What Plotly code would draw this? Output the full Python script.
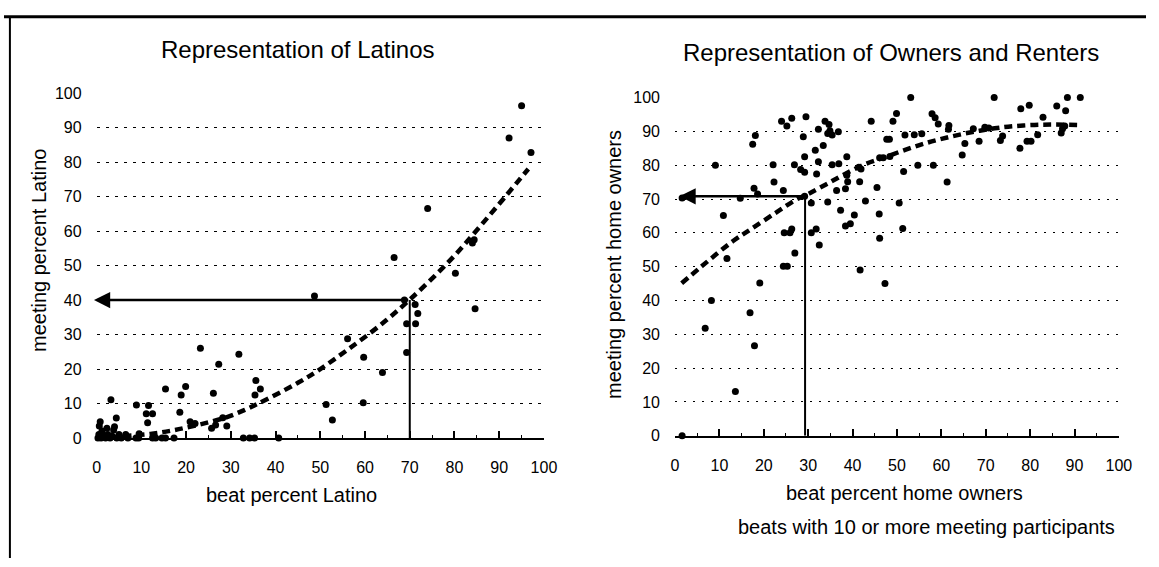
import plotly.graph_objects as go

W, H = 1159, 567

# ---------------- data: Representation of Latinos ----------------
latino_beat = [95.0, 92.2, 97.1, 74.0, 66.5, 84.4, 84.0, 80.2, 84.6, 48.7, 68.8, 71.2, 71.8, 69.3, 71.3,
               69.3, 56.1, 59.7, 63.9, 51.3, 59.6, 52.7,
               23.2, 31.8, 27.3, 35.6, 36.6, 35.4, 15.4, 19.9, 18.9, 26.1, 3.2, 8.9, 11.6, 11.1, 12.5,
               11.4, 4.4, 18.6, 20.9, 22.0, 25.7, 26.6, 29.1, 28.2,
               32.8, 34.2, 35.3, 40.7, 8.8, 9.4, 12.5, 13.2, 14.6, 15.4, 17.3,
               0.3, 0.5, 0.6, 0.8, 1.0, 1.2, 1.5, 2.0, 2.3, 2.5, 3.0, 3.5, 3.8, 4.0, 4.5, 5.0, 5.5,
               6.5, 7.0, 9.5]
latino_meeting = [96.3, 87.0, 82.8, 66.5, 52.3, 57.5, 56.5, 47.8, 37.5, 41.2, 40.0, 38.7, 36.1, 33.1, 33.1,
                  24.8, 28.8, 23.4, 19.0, 9.7, 10.2, 5.2,
                  26.0, 24.3, 21.4, 16.7, 14.2, 12.5, 14.2, 14.9, 12.5, 13.0, 11.1, 9.6, 9.4, 7.0, 7.0,
                  4.4, 5.8, 7.5, 4.7, 4.2, 2.8, 3.8, 3.5, 5.9,
                  0, 0, 0, 0, 0, 0, 0, 0, 0, 0, 0,
                  0, 1.0, 3.5, 4.7, 0, 2.0, 0.5, 0, 2.8, 1.0, 0, 0.5, 2.3, 3.3, 0, 1.0, 0,
                  1.0, 0, 1.2]
latino_trend_x = [6, 12, 17, 23, 29, 33, 36, 45, 50, 56, 63, 70, 79, 87, 96.5]
latino_trend_y = [0.6, 1.2, 2.2, 3.9, 6.0, 8.1, 9.9, 16.0, 20.0, 25.5, 32.3, 40.1, 51.5, 63.3, 78.0]
latino_guide_x = 70
latino_guide_y = 40

# ---------------- data: Representation of Owners and Renters ----------------
owner_beat = [1.6, 6.8, 8.2, 9.1, 10.9, 11.7, 13.6, 14.7, 16.9, 17.9,
              19.1, 17.5, 18.1, 17.8, 18.6, 1.6, 22.1, 22.3, 24.0, 25.2,
              26.3, 24.4, 24.6, 25.9, 26.3, 24.4, 25.3, 27.0, 26.9, 28.9,
              29.5, 29.2, 28.3, 29.2, 29.2, 30.7, 30.7, 31.8, 32.5, 31.6,
              32.3, 32.3, 31.9, 33.8, 34.7, 34.9, 35.4, 34.4, 36.8, 33.4,
              34.4, 35.4, 36.9, 36.4, 37.3, 38.4, 38.7, 38.9, 38.4, 39.5,
              40.4, 38.7, 41.4, 41.9, 41.6, 41.7, 42.9, 44.2, 45.5, 46.0,
              46.1, 46.1, 46.9, 48.4, 47.3, 47.7, 48.3, 49.1, 49.9, 50.5,
              51.3, 51.5, 51.8, 53.1, 53.9, 54.7, 55.6, 57.9, 58.6,
              59.3, 58.2, 61.3, 61.7, 61.6, 64.7, 65.3, 67.2, 68.5,
              69.8, 70.7, 71.9, 73.3, 73.8, 77.7, 77.9, 79.8, 79.3, 80.2,
              81.7, 82.9, 86.0, 88.0, 87.0, 87.3, 87.8, 88.4, 91.3]
owner_meeting = [0, 31.8, 40.0, 80.0, 65.1, 52.4, 13.1, 70.2, 36.4, 26.6,
                 45.2, 86.2, 88.8, 73.2, 71.5, 70.3, 80.1, 75.0, 93.0, 91.6,
                 93.9, 72.5, 60.0, 60.0, 61.1, 50.1, 50.1, 54.0, 80.1, 88.4,
                 94.3, 82.5, 78.7, 77.9, 70.8, 68.8, 60.0, 61.1, 56.4, 84.4,
                 90.6, 81.0, 77.4, 93.0, 92.0, 90.2, 88.9, 89.4, 89.9, 85.8,
                 69.1, 80.1, 80.4, 72.5, 66.7, 73.0, 82.5, 75.1, 62.0, 62.7,
                 65.3, 77.0, 79.4, 78.9, 75.1, 49.0, 69.4, 93.0, 73.4, 65.6,
                 58.4, 82.2, 82.2, 82.6, 45.0, 87.7, 87.7, 93.0, 95.3, 68.8,
                 61.3, 78.1, 88.9, 100, 89.0, 80.0, 89.3, 95.2, 94.0,
                 92.2, 80.0, 75.0, 91.7, 90.6, 83.0, 86.4, 90.8, 87.1,
                 91.2, 91.0, 100, 87.3, 88.6, 85.0, 96.7, 97.7, 87.1, 87.1,
                 89.0, 94.2, 97.5, 96.1, 89.5, 90.8, 91.6, 100, 100]
owner_trend_x = [1.5, 6, 13, 17, 23, 27, 30, 34, 38, 43, 47, 52, 57, 62, 67, 72, 76, 81, 85, 91]
owner_trend_y = [45.1, 50.1, 57.5, 61.0, 66.2, 69.6, 71.5, 74.3, 77.2, 80.4, 82.2, 84.6, 86.7, 88.4,
                 89.8, 90.9, 91.5, 91.9, 92.0, 91.9]
owner_guide_x = 29.3
owner_guide_y = 70.8

tick_values = [0, 10, 20, 30, 40, 50, 60, 70, 80, 90, 100]
tick_labels = ["0", "10", "20", "30", "40", "50", "60", "70", "80", "90", "100"]
minor_values = [5, 15, 25, 35, 45, 55, 65, 75, 85, 95]

titles = ["Representation of Latinos", "Representation of Owners and Renters"]
x_titles = ["beat percent Latino", "beat percent home owners"]
y_titles = ["meeting percent Latino", "meeting percent home owners"]
footnote = "beats with 10 or more meeting participants"

FONT = "Liberation Sans, Arial, sans-serif"


def px(x):
    return x / W


def py(y):
    return 1 - y / H


fig = go.Figure()

fig.add_trace(go.Scatter(x=latino_trend_x, y=latino_trend_y, mode="lines",
                         line=dict(color="black", width=4.5, dash="8px,5px", shape="spline"),
                         xaxis="x", yaxis="y", hoverinfo="skip", cliponaxis=False))
fig.add_trace(go.Scatter(x=latino_beat, y=latino_meeting, mode="markers",
                         marker=dict(color="black", size=7), xaxis="x", yaxis="y", cliponaxis=False))
fig.add_trace(go.Scatter(x=owner_trend_x, y=owner_trend_y, mode="lines",
                         line=dict(color="black", width=4.5, dash="8px,5px", shape="spline"),
                         xaxis="x2", yaxis="y2", hoverinfo="skip", cliponaxis=False))
fig.add_trace(go.Scatter(x=owner_beat, y=owner_meeting, mode="markers",
                         marker=dict(color="black", size=7), xaxis="x2", yaxis="y2", cliponaxis=False))


def xaxis_style(domain, anchor):
    return dict(domain=domain, anchor=anchor, range=[0, 100], tickmode="array",
                tickvals=tick_values, ticktext=tick_labels, ticks="inside", ticklen=7,
                tickwidth=1.5, tickcolor="black", showline=True, linecolor="black",
                linewidth=1.5, showgrid=False, zeroline=False,
                minor=dict(ticks="inside", ticklen=3, tickwidth=1, tickcolor="black",
                           tickmode="array", tickvals=minor_values, showgrid=False),
                tickfont=dict(family=FONT, size=16, color="black"), ticklabelstandoff=14,
                fixedrange=True)


def yaxis_style(domain, anchor, griddash):
    return dict(domain=domain, anchor=anchor, range=[0, 100], tickmode="array",
                tickvals=tick_values, ticktext=tick_labels, ticks="", showline=False,
                showgrid=True, gridcolor="black", gridwidth=1, griddash=griddash,
                zeroline=False, tickfont=dict(family=FONT, size=16, color="black"),
                ticklabelstandoff=14, fixedrange=True)


shapes = [
    dict(type="line", xref="paper", yref="paper", x0=0, x1=1, y0=py(9), y1=py(9),
         line=dict(color="black", width=3)),
    dict(type="line", xref="paper", yref="paper", x0=px(6), x1=px(6), y0=0, y1=py(9),
         line=dict(color="black", width=2)),
    dict(type="line", xref="x", yref="y", x0=latino_guide_x, x1=latino_guide_x, y0=0,
         y1=latino_guide_y, line=dict(color="black", width=2)),
    dict(type="line", xref="x2", yref="y2", x0=owner_guide_x, x1=owner_guide_x, y0=0,
         y1=owner_guide_y, line=dict(color="black", width=2)),
]

annotations = [
    dict(xref="x", yref="y", axref="x", ayref="y", x=-0.6, y=latino_guide_y,
         ax=latino_guide_x, ay=latino_guide_y, showarrow=True, arrowhead=2, arrowsize=1.3,
         arrowwidth=2.5, arrowcolor="black", text=""),
    dict(xref="x2", yref="y2", axref="x2", ayref="y2", x=1.0, y=owner_guide_y,
         ax=owner_guide_x, ay=owner_guide_y, showarrow=True, arrowhead=2, arrowsize=1.3,
         arrowwidth=2.5, arrowcolor="black", text=""),
]


def label(text, x, y, size, angle=0):
    return dict(xref="paper", yref="paper", x=px(x), y=py(y), text=text, showarrow=False,
                xanchor="center", yanchor="middle", textangle=angle,
                font=dict(family=FONT, size=size, color="black"))


annotations += [
    label(titles[0], 298, 43, 24),
    label(titles[1], 900, 46, 24),
    label(x_titles[0], 291.5, 502, 20),
    label(x_titles[1], 914, 500, 20),
    label(y_titles[0], 35, 250, 20, -90),
    label(y_titles[1], 619, 264, 20, -90),
    label(footnote, 936, 535, 20),
]

fig.update_layout(
    width=W, height=H, margin=dict(l=0, r=0, t=0, b=0),
    paper_bgcolor="white", plot_bgcolor="white", showlegend=False,
    xaxis=xaxis_style([px(94), px(548)], "y"),
    yaxis=yaxis_style([py(443.3), py(87.7)], "x", "3px,6px"),
    xaxis2=xaxis_style([px(681), px(1131.5)], "y2"),
    yaxis2=yaxis_style([py(441), py(92.3)], "x2", "2px,7px"),
    shapes=shapes, annotations=annotations,
)

fig.write_html("out.html", config={"displayModeBar": False},
               post_script="document.body.style.margin='0';document.body.style.overflow='hidden';")
